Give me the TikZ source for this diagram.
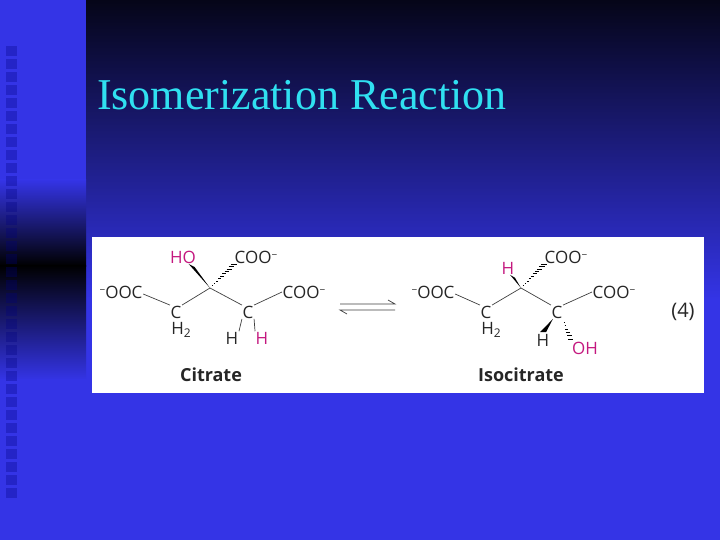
\documentclass[tikz,border=0pt]{standalone}
\usepackage{fontspec}
\usetikzlibrary{calc}
\setmainfont{Liberation Serif}
\newfontfamily\chem{Open Sans}
\newcommand{\mns}{\raisebox{4.5pt}{\fontsize{10}{10}\selectfont −}}
\newcommand{\sbt}{\raisebox{-3pt}{\fontsize{12}{12}\selectfont 2}}
\begin{document}
\begin{tikzpicture}[x=1pt,y=-1pt,
  atm/.style={font=\chem\fontsize{17}{17}\selectfont, text=black!85, inner sep=0.5pt},
  mg/.style={atm, text=magentaC},
  bond/.style={black!75, line width=0.7pt},
  lbl/.style={font=\chem\bfseries\fontsize{18}{18}\selectfont, text=black!85}]
\definecolor{magentaC}{HTML}{C4187F}
\definecolor{blueA}{HTML}{3434E6}
\definecolor{darkA}{HTML}{050518}
\definecolor{titleC}{HTML}{30E0F0}
\useasboundingbox (0,0) rectangle (720,540);
% background
\shade[top color=darkA, bottom color=blueA] (86,0) rectangle (720,300);
\fill[blueA] (86,299) rectangle (720,540);
\fill[blueA] (0,0) rectangle (86,181);
\shade[top color=blueA, bottom color=black] (0,180) rectangle (86,266);
\shade[top color=black, bottom color=blueA] (0,265) rectangle (86,380);
\fill[blueA] (0,379) rectangle (86,540);
\foreach \i in {0,...,34} {
  \fill[blue!50!black, opacity=0.3] (6,{46+13*\i}) rectangle (17,{56+13*\i});
}
\node[anchor=base west, font=\fontsize{44}{44}\selectfont, text=titleC, inner sep=0] (title) at (97,110) {Isomerization Reaction};
\fill[white] (92,237) rectangle (704,393);
% Citrate
\node[atm] (a1) at (121,292) {\mns OOC};
\node[atm] (a2) at (176,312) {C};
\node[atm] (a2h) at (181,330) {H\sbt};
\coordinate (a3) at (210,288);
\node[mg] (aho) at (183,257) {HO};
\node[atm] (acoo) at (256,257) {COO\mns};
\node[atm] (a4) at (248,312) {C};
\node[atm] (ah1) at (232,338) {H};
\node[mg] (ah2) at (262,338) {H};
\node[atm] (acoo2) at (304,292) {COO\mns};
\draw[bond] (a1.east) ++(0,2) -- (a2.north west);
\draw[bond] (a2.north east) -- (a3) -- (a4.north west);
\draw[bond] (a4.north east) -- (acoo2.west);
\draw[bond] (a4.south west) -- (ah1.north east);
\draw[bond] (a4.south east) -- (ah2.north west);
\fill[black] (a3) -- ($(aho.south east)+(-8,0)$) -- ($(aho.south east)+(-2,3)$) -- cycle;
\foreach \t in {0.1,0.2,...,1.0}
  \draw[black, line width=0.4pt] ($(a3)!\t!(acoo.south west)+(-3.2*\t,0)$) -- ($(a3)!\t!(acoo.south west)+(3.2*\t,0)$);
\node[lbl] (cit) at (211,375) {Citrate};
% arrows
\coordinate (eqL) at (340,307); \coordinate (eqR) at (395,307);
\draw[bond] ($(eqL)+(0,-3)$) -- ($(eqR)+(0,-3)$) -- ++(-7,-4);
\draw[bond] ($(eqR)+(0,3)$) -- ($(eqL)+(0,3)$) -- ++(7,4);
% Isocitrate
\node[atm] (b1) at (433,292) {\mns OOC};
\node[atm] (b2) at (486,312) {C};
\node[atm] (b2h) at (491,330) {H\sbt};
\coordinate (b3) at (521,288);
\node[mg] (bh) at (508,268) {H};
\node[atm] (bcoo) at (566,257) {COO\mns};
\node[atm] (b4) at (557,312) {C};
\node[atm] (bh1) at (543,340) {H};
\node[mg] (boh) at (585,348) {OH};
\node[atm] (bcoo2) at (614,292) {COO\mns};
\draw[bond] (b1.east) ++(0,2) -- (b2.north west);
\draw[bond] (b2.north east) -- (b3) -- (b4.north west);
\draw[bond] (b4.north east) -- (bcoo2.west);
\fill[black] (b3) -- ($(bh.south east)+(-5,0)$) -- ($(bh.south east)+(0,3)$) -- cycle;
\foreach \t in {0.1,0.2,...,1.0}
  \draw[black, line width=0.4pt] ($(b3)!\t!(bcoo.south west)+(-3.2*\t,0)$) -- ($(b3)!\t!(bcoo.south west)+(3.2*\t,0)$);
\fill[black] ($(b4.south west)+(2,0)$) -- ($(bh1.north)+(-3,-1)$) -- ($(bh1.north)+(3,-1)$) -- cycle;
\foreach \t in {0.15,0.3,...,1.0}
  \draw[black, line width=0.4pt] ($(b4.south east)!\t!(boh.north west)+(-3*\t,0)$) -- ($(b4.south east)!\t!(boh.north west)+(3*\t,0)$);
\node[lbl] (iso) at (521,375) {Isocitrate};
\node[atm, font=\chem\fontsize{20}{20}\selectfont] (num) at (683,312) {(4)};
\end{tikzpicture}
\end{document}
